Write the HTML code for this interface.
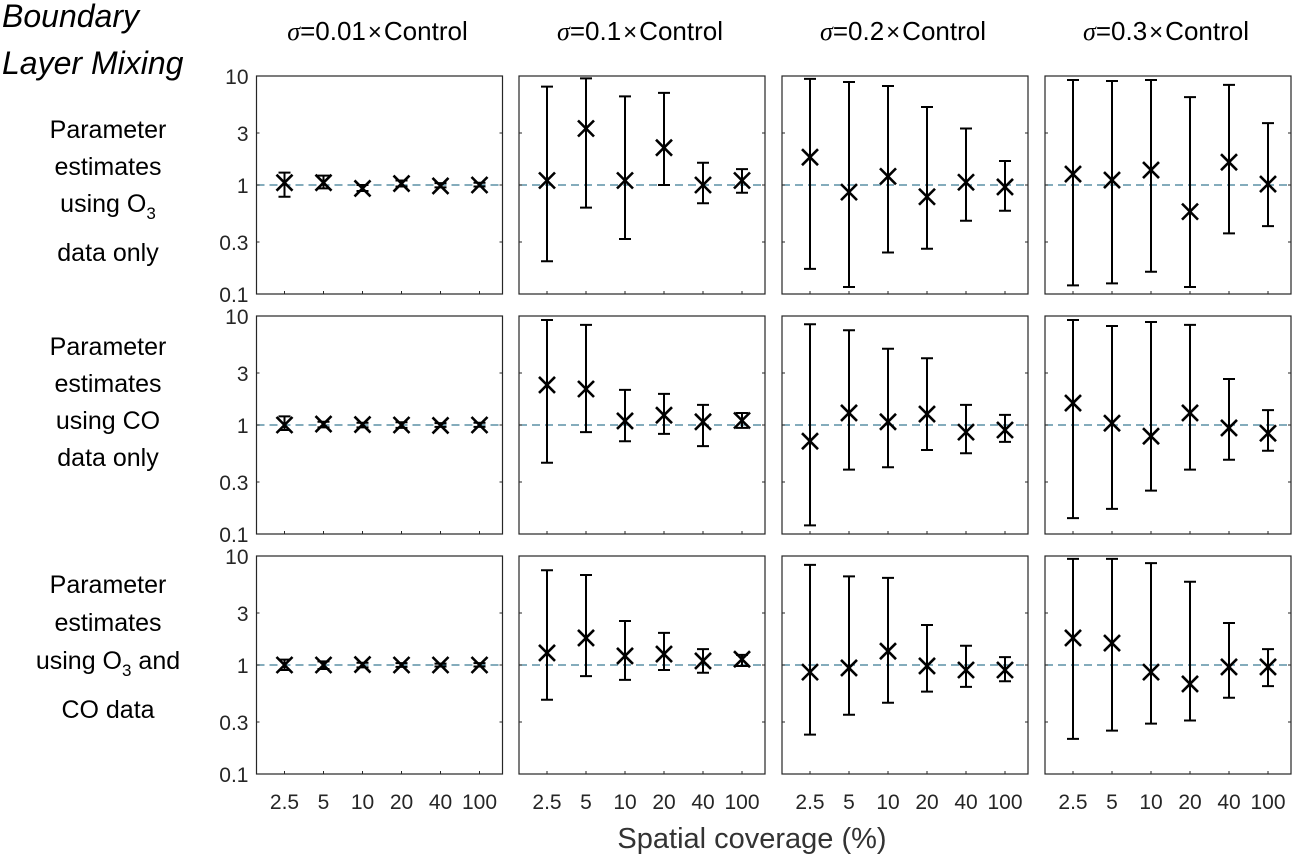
<!DOCTYPE html>
<html><head><meta charset="utf-8"><style>
html,body{margin:0;padding:0;background:#fff}
svg{display:block;font-family:"Liberation Sans",sans-serif}
</style></head><body>
<svg id="chart" width="1304" height="856" viewBox="0 0 1304 856" xmlns="http://www.w3.org/2000/svg">
<text x="2" y="27" font-size="32" font-style="italic">Boundary</text>
<text x="2" y="74" font-size="32" font-style="italic">Layer Mixing</text>
<text x="752" y="848" font-size="29" fill="#333" text-anchor="middle">Spatial coverage (%)</text>
</svg>
<script>
const categories = ["2.5","5","10","20","40","100"];
const yTicks = [0.1,0.3,1,3,10];
const yTickLabels = ["0.1","0.3","1","3","10"];
const sigmaTitles = ["0.01","0.1","0.2","0.3"];
// rows: O3, CO, O3+CO ; cols: sigma 0.01,0.1,0.2,0.3
const centers = [
 [[1.05,1.05,0.93,1.03,0.98,1.0],[1.1,3.3,1.1,2.2,1.0,1.1],[1.8,0.86,1.2,0.78,1.06,0.96],[1.26,1.11,1.37,0.57,1.62,1.02]],
 [[1.0,1.02,1.01,1.0,0.99,1.0],[2.33,2.14,1.09,1.23,1.07,1.1],[0.71,1.29,1.07,1.26,0.86,0.9],[1.59,1.04,0.79,1.29,0.94,0.84]],
 [[1.0,1.0,1.01,1.0,1.0,1.0],[1.29,1.77,1.21,1.26,1.09,1.13],[0.86,0.94,1.34,0.98,0.9,0.9],[1.77,1.59,0.86,0.67,0.96,0.96]]
];
const lows = [
 [[0.78,0.93,0.88,0.97,0.95,0.97],[0.2,0.62,0.32,1.0,0.68,0.85],[0.17,0.116,0.24,0.26,0.47,0.58],[0.12,0.125,0.16,0.116,0.36,0.42]],
 [[0.9,0.95,0.95,0.94,0.96,0.96],[0.45,0.86,0.71,0.83,0.64,0.94],[0.12,0.39,0.41,0.59,0.55,0.7],[0.14,0.17,0.25,0.39,0.48,0.58]],
 [[0.9,0.92,0.95,0.96,0.97,0.97],[0.48,0.79,0.73,0.9,0.85,0.98],[0.23,0.35,0.45,0.57,0.63,0.71],[0.21,0.25,0.29,0.31,0.5,0.64]]
];
const highs = [
 [[1.3,1.22,1.0,1.1,1.04,1.05],[8,9.5,6.5,7,1.6,1.4],[9.4,8.8,8.1,5.2,3.3,1.66],[9.2,9,9.2,6.4,8.3,3.7]],
 [[1.2,1.07,1.05,1.06,1.04,1.05],[9.2,8.3,2.1,1.93,1.53,1.29],[8.4,7.4,5.0,4.1,1.53,1.24],[9.2,8.1,8.8,8.3,2.64,1.37]],
 [[1.12,1.08,1.05,1.04,1.03,1.04],[7.4,6.7,2.53,1.97,1.4,1.24],[8.3,6.5,6.3,2.33,1.5,1.18],[9.4,9.4,8.6,5.8,2.43,1.4]]
];
const rowLabels = [
 ["Parameter","estimates","using O<tspan font-size='17' dy='7'>3</tspan>","data only"],
 ["Parameter","estimates","using CO","data only"],
 ["Parameter","estimates","using O<tspan font-size='17' dy='7'>3</tspan><tspan dy='-7'> and</tspan>","CO data"]
];
const labelBaselines = [[138,175,212,261],[355,392,429,466],[593,631,669,718]];
const svg = document.getElementById('chart');
const NS = "http://www.w3.org/2000/svg";
const colX = [256.5,519,782,1045], rowY = [76,316,556], PW=246, PH=218;
function mk(tag, attrs){const e=document.createElementNS(NS,tag);for(const k in attrs)e.setAttribute(k,attrs[k]);svg.appendChild(e);return e;}
function yScale(r,v){return rowY[r]+PH*(1-(Math.log10(v)+1)/2);}
function xScale(c,i){return colX[c]+28+39*i;}
for(let c=0;c<4;c++){
  const t=mk('text',{x:colX[c]+PW/2-2,y:40,'font-size':26,'text-anchor':'middle'});
  
  
  t.innerHTML="<tspan font-family='Liberation Serif' font-style='italic'>σ</tspan>="+sigmaTitles[c]+"<tspan font-size='24' dx='2'>×</tspan><tspan dx='2'>Control</tspan>";
}
for(let r=0;r<3;r++){
  const lt=mk('text',{x:108,y:labelBaselines[r][0],'font-size':25,'text-anchor':'middle'});
  
  
  lt.innerHTML=rowLabels[r].map((s,i)=>`<tspan x="108" y="${labelBaselines[r][i]}">${s}</tspan>`).join('');
  for(let c=0;c<4;c++){
    const g=mk('g',{});
    
    
    const x0=colX[c], y0=rowY[r];
    const ref=mk('line',{x1:x0,x2:x0+PW,y1:yScale(r,1),y2:yScale(r,1),stroke:'#3a7a94','stroke-width':1.2,'stroke-dasharray':'8,5'});
    
    
    yTicks.forEach((v,k)=>{
      const y=yScale(r,v);
      mk('line',{x1:x0,x2:x0+3,y1:y,y2:y,stroke:'#262626','stroke-width':1});
      mk('line',{x1:x0+PW-3,x2:x0+PW,y1:y,y2:y,stroke:'#262626','stroke-width':1});
      if(c==0){
        const tl=mk('text',{x:x0-8,y:y+8,'font-size':21,fill:'#262626','text-anchor':'end'});
        
        
        tl.textContent=yTickLabels[k];
      }
    });
    categories.forEach((cat,i)=>{
      const x=xScale(c,i);
      mk('line',{x1:x,x2:x,y1:y0+PH,y2:y0+PH-3,stroke:'#262626','stroke-width':1});
      if(r==2){
        const xl=mk('text',{x:x,y:y0+PH+35,'font-size':21,fill:'#262626','text-anchor':'middle'});
        
        
        xl.textContent=cat;
      }
      const yl=yScale(r,lows[r][c][i]), yh=yScale(r,highs[r][c][i]), yc=yScale(r,centers[r][c][i]);
      const eb=mk('path',{d:`M${x},${yl}V${yh}M${x-6},${yl}H${x+6}M${x-6},${yh}H${x+6}`,stroke:'#000','stroke-width':2,fill:'none'});
      
      
      const m=mk('path',{d:`M${x-8},${yc-8}L${x+8},${yc+8}M${x-8},${yc+8}L${x+8},${yc-8}`,stroke:'#000','stroke-width':2.6,fill:'none'});
      
      
    });
    const box=mk('rect',{x:x0,y:y0,width:PW,height:PH,fill:'none',stroke:'#262626','stroke-width':1.2});
    
    
  }
}
</script>
</body></html>
